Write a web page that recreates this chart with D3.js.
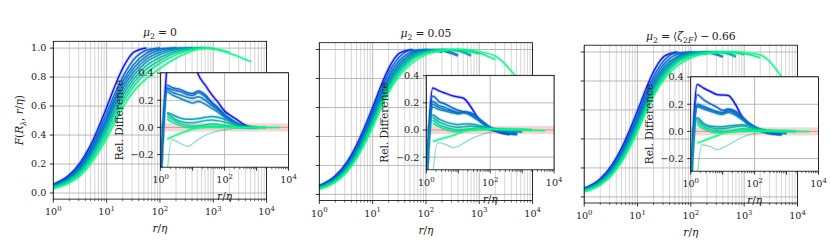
<!DOCTYPE html>
<html><head><meta charset="utf-8">
<script src="https://cdn.jsdelivr.net/npm/d3@7"></script>
<style>
body{margin:0;background:#fff}
text{font-family:"DejaVu Serif","Liberation Serif",serif;fill:#222}
</style>
</head><body>
<svg id="c" width="830" height="249"></svg>
<script>
// ---------------- DATA ----------------
const rMain = [1, 2, 3.2, 5, 7, 10, 14, 20, 32, 56, 100, 200, 400, 700, 1000, 2000, 5200];
const toneMain = [0, 0.36, 0.41, 0.45, 0.5, 0.6, 0.7, 0.8, 0.9, 1.0];

const F_mu0 = [
 [0.06,0.125,0.21,0.33,0.45,0.59,0.73,0.86,0.97,1.0],
 [0.055,0.115,0.195,0.31,0.42,0.55,0.68,0.80,0.92,0.985,1.0],
 [0.052,0.11,0.185,0.295,0.40,0.52,0.65,0.77,0.885,0.965,0.995,1.0],
 [0.05,0.105,0.178,0.285,0.385,0.505,0.63,0.745,0.86,0.945,0.985,1.0,0.998],
 [0.048,0.1,0.17,0.272,0.37,0.485,0.605,0.72,0.835,0.925,0.97,0.995,1.0],
 [0.045,0.095,0.162,0.26,0.355,0.465,0.585,0.695,0.81,0.905,0.955,0.99,1.0,0.998],
 [0.042,0.09,0.152,0.245,0.337,0.445,0.56,0.67,0.785,0.88,0.935,0.98,0.998,1.0],
 [0.04,0.085,0.145,0.235,0.322,0.425,0.54,0.645,0.76,0.855,0.915,0.97,0.995,1.0,0.995],
 [0.035,0.078,0.133,0.218,0.30,0.40,0.51,0.62,0.735,0.83,0.895,0.955,0.99,1.0,0.995,0.97],
 [0.03,0.07,0.12,0.2,0.28,0.375,0.48,0.59,0.70,0.79,0.86,0.93,0.98,1.0,0.995,0.965,0.905]
];
const F_mu005 = [
 [0.06,0.128,0.215,0.34,0.46,0.6,0.74,0.87,0.975,1.0],
 [0.057,0.12,0.205,0.325,0.44,0.575,0.715,0.84,0.95,0.995,0.99],
 [0.055,0.117,0.2,0.315,0.43,0.56,0.695,0.815,0.925,0.985,1.0,0.98],
 [0.053,0.113,0.193,0.305,0.415,0.545,0.675,0.795,0.905,0.975,0.998,0.99,0.955],
 [0.05,0.108,0.185,0.295,0.40,0.53,0.655,0.775,0.89,0.965,0.995,0.995,0.965],
 [0.048,0.104,0.178,0.285,0.39,0.515,0.64,0.76,0.875,0.955,0.99,1.0,0.99,0.955],
 [0.046,0.1,0.172,0.277,0.38,0.505,0.63,0.75,0.865,0.95,0.985,0.998,0.995,0.965],
 [0.043,0.095,0.165,0.268,0.37,0.49,0.615,0.735,0.85,0.94,0.98,0.998,0.998,0.985,0.97],
 [0.04,0.09,0.158,0.258,0.358,0.478,0.60,0.72,0.835,0.93,0.975,0.995,1.0,0.99,0.975,0.93],
 [0.036,0.084,0.15,0.248,0.345,0.462,0.585,0.705,0.82,0.91,0.965,0.99,1.0,0.995,0.985,0.955,0.80]
];
const F_muZeta = [
 [0.058,0.125,0.212,0.335,0.455,0.595,0.735,0.865,0.972,1.0],
 [0.055,0.118,0.2,0.318,0.432,0.565,0.705,0.83,0.945,0.995,0.99],
 [0.053,0.114,0.194,0.308,0.42,0.55,0.685,0.805,0.92,0.985,1.0,0.985],
 [0.051,0.11,0.187,0.298,0.405,0.535,0.665,0.785,0.9,0.97,0.997,0.995,0.965],
 [0.049,0.106,0.18,0.288,0.393,0.52,0.648,0.768,0.885,0.962,0.994,0.998,0.97],
 [0.047,0.102,0.174,0.279,0.382,0.507,0.633,0.753,0.87,0.952,0.99,1.0,0.995,0.965],
 [0.045,0.098,0.168,0.27,0.372,0.495,0.62,0.74,0.858,0.945,0.985,0.998,0.998,0.975],
 [0.042,0.093,0.16,0.26,0.36,0.48,0.605,0.725,0.845,0.935,0.978,0.997,1.0,0.995,0.98],
 [0.039,0.088,0.153,0.25,0.348,0.467,0.59,0.71,0.83,0.925,0.972,0.994,1.0,0.998,0.99,0.96],
 [0.035,0.082,0.145,0.24,0.335,0.452,0.575,0.695,0.815,0.905,0.96,0.99,0.998,1.0,0.995,0.98,0.82]
];

// inset: relative difference, [r/eta, value] pairs; last series is the faint one
const toneInset = [0, 0.36, 0.41, 0.45, 0.5, 0.6, 0.7, 0.8, 0.9, 1.0, 0.7];
const D_mu0 = [
 [[1,-0.42],[1.6,0.45],[2.5,0.6],[4,0.66],[7,0.64],[10,0.52],[15,0.39],[25,0.31],[40,0.24],[60,0.19],[100,0.12],[160,0.085],[250,0.055],[400,0.022],[700,0]],
 [[1,-0.35],[1.6,0.31],[2.5,0.29],[4,0.28],[7,0.255],[10,0.25],[15,0.268],[25,0.24],[40,0.185],[60,0.15],[100,0.095],[160,0.06],[250,0.03],[400,0.01],[700,0]],
 [[1,-0.35],[1.6,0.29],[2.5,0.275],[4,0.265],[7,0.24],[10,0.235],[15,0.255],[25,0.225],[40,0.175],[60,0.14],[100,0.09],[160,0.055],[250,0.03],[400,0.01],[700,0]],
 [[1,-0.35],[1.6,0.28],[2.5,0.255],[4,0.24],[7,0.22],[10,0.215],[15,0.225],[25,0.2],[40,0.16],[60,0.13],[100,0.085],[160,0.05],[250,0.025],[400,0.005],[1000,0]],
 [[1,-0.35],[1.6,0.26],[2.5,0.235],[4,0.215],[7,0.19],[10,0.18],[15,0.19],[25,0.17],[40,0.14],[60,0.115],[100,0.075],[160,0.045],[250,0.02],[400,0.005],[1000,0]],
 [[1.6,0.11],[2.5,0.09],[4,0.07],[7,0.06],[10,0.06],[15,0.065],[25,0.075],[40,0.08],[60,0.075],[100,0.06],[160,0.04],[250,0.02],[400,0.005],[1000,0]],
 [[1.6,0.1],[2.5,0.07],[4,0.045],[7,0.035],[10,0.035],[15,0.04],[25,0.05],[40,0.055],[60,0.05],[100,0.04],[160,0.025],[250,0.01],[400,0],[1000,0]],
 [[1.6,0.08],[2.5,0.055],[4,0.03],[7,0.015],[10,0.01],[15,0.012],[25,0.02],[40,0.025],[60,0.022],[100,0.015],[160,0.008],[250,0],[1000,0],[2000,0]],
 [[1.6,0.06],[2.5,0.035],[4,0.015],[7,0],[10,-0.005],[15,0],[25,0.005],[40,0.008],[100,0.005],[250,0],[1000,0],[2000,0]],
 [[1.6,-0.085],[2.5,-0.065],[4,-0.045],[7,-0.025],[10,-0.012],[15,-0.004],[25,0],[100,0],[1000,0],[5200,0]],
 [[1.6,-0.33],[2.2,-0.09],[4,-0.115],[7,-0.14],[10,-0.12],[15,-0.09],[25,-0.058],[40,-0.038],[60,-0.027],[100,-0.017],[160,-0.01],[250,-0.005],[400,-0.002],[1000,0]]
];
const D_mu005 = [
 [[1,-0.42],[1.6,0.31],[2.5,0.288],[4,0.27],[7,0.25],[10,0.243],[15,0.232],[25,0.17],[40,0.095],[60,0.05],[100,0.007],[160,-0.012],[250,-0.025],[400,-0.035]],
 [[1,-0.4],[1.6,0.25],[2.5,0.21],[4,0.19],[7,0.16],[10,0.145],[15,0.135],[25,0.125],[40,0.09],[60,0.06],[100,0.02],[160,0],[250,-0.015],[400,-0.025],[700,-0.03]],
 [[1,-0.4],[1.6,0.21],[2.5,0.18],[4,0.165],[7,0.14],[10,0.13],[15,0.13],[25,0.12],[40,0.085],[60,0.055],[100,0.015],[160,-0.005],[250,-0.02],[400,-0.028],[700,-0.035]],
 [[1,-0.4],[1.6,0.19],[2.5,0.165],[4,0.15],[7,0.135],[10,0.125],[15,0.135],[25,0.115],[40,0.08],[60,0.05],[100,0.015],[250,-0.01],[700,-0.02]],
 [[1,-0.4],[1.6,0.17],[2.5,0.15],[4,0.14],[7,0.125],[10,0.118],[15,0.125],[25,0.105],[40,0.075],[60,0.045],[100,0.012],[250,-0.005],[1000,-0.015]],
 [[1,-0.35],[1.6,0.11],[2.5,0.08],[4,0.06],[7,0.045],[10,0.04],[15,0.045],[25,0.045],[40,0.035],[100,0.01],[250,0],[1000,-0.005]],
 [[1.6,0.095],[2.5,0.06],[4,0.04],[7,0.025],[10,0.02],[15,0.025],[25,0.03],[40,0.025],[100,0.01],[250,0],[1000,0]],
 [[1.6,0.075],[2.5,0.04],[4,0.02],[7,0.005],[10,0],[25,0.01],[40,0.015],[100,0.01],[250,0.005],[2000,0]],
 [[1.6,0.05],[2.5,0.025],[4,0.005],[7,-0.01],[10,-0.01],[25,0],[100,0.005],[1000,0.005],[2000,0]],
 [[1.6,-0.085],[2.5,-0.07],[4,-0.055],[7,-0.04],[10,-0.025],[15,-0.01],[25,0],[40,0.005],[100,0.005],[1000,0],[5200,-0.005]],
 [[1.6,-0.33],[2.2,-0.095],[4,-0.105],[7,-0.13],[10,-0.12],[15,-0.095],[25,-0.065],[40,-0.045],[60,-0.03],[100,-0.015],[250,-0.005],[1000,0]]
];
const D_muZeta = [
 [[1,-0.42],[1.6,0.346],[2.5,0.32],[4,0.296],[7,0.27],[10,0.268],[15,0.264],[25,0.2],[40,0.111],[60,0.062],[100,0.032],[250,-0.012],[700,-0.025]],
 [[1,-0.4],[1.6,0.27],[2.5,0.235],[4,0.205],[7,0.175],[10,0.155],[15,0.165],[25,0.15],[40,0.11],[60,0.07],[100,0.035],[250,-0.005],[700,-0.02]],
 [[1,-0.4],[1.6,0.2],[2.5,0.185],[4,0.165],[7,0.145],[10,0.14],[15,0.16],[25,0.14],[40,0.1],[60,0.065],[100,0.03],[250,-0.01],[700,-0.02]],
 [[1,-0.4],[1.6,0.19],[2.5,0.175],[4,0.158],[7,0.14],[10,0.135],[15,0.15],[25,0.13],[40,0.095],[60,0.06],[100,0.028],[250,-0.008],[1000,-0.015]],
 [[1,-0.4],[1.6,0.18],[2.5,0.165],[4,0.15],[7,0.13],[10,0.125],[15,0.14],[25,0.12],[40,0.088],[60,0.055],[100,0.025],[250,-0.005],[1000,-0.012]],
 [[1,-0.35],[1.6,0.1],[2.5,0.06],[4,0.04],[7,0.035],[10,0.035],[15,0.04],[25,0.045],[40,0.05],[60,0.045],[100,0.03],[250,0.005],[1000,-0.005]],
 [[1.6,0.09],[2.5,0.05],[4,0.03],[7,0.02],[10,0.02],[15,0.025],[25,0.035],[40,0.04],[100,0.02],[250,0.005],[1000,0]],
 [[1.6,0.07],[2.5,0.035],[4,0.015],[7,0.005],[10,0],[25,0.01],[40,0.02],[100,0.015],[250,0.005],[2000,0]],
 [[1.6,0.05],[2.5,0.02],[4,0],[7,-0.01],[10,-0.01],[25,0],[100,0.008],[1000,0.003],[2000,0]],
 [[1.6,-0.086],[2.5,-0.07],[4,-0.05],[7,-0.03],[10,-0.012],[15,-0.005],[25,0],[100,0.002],[1000,0],[5200,0]],
 [[1.6,-0.33],[2.2,-0.1],[4,-0.11],[7,-0.135],[10,-0.12],[15,-0.1],[25,-0.07],[40,-0.045],[60,-0.03],[100,-0.017],[250,-0.005],[1000,0]]
];

const mainYTicks = [0, 0.2, 0.4, 0.6, 0.8, 1.0];
const insetYTicks = [-0.2, 0, 0.2, 0.4];
const decadeTicks = [1, 10, 100, 1000, 10000];
const insetXTicks = [1, 100, 10000];

// ---------------- LAYOUT ----------------
const panels = [
  {F: F_mu0,    D: D_mu0,    x: 53.3,  top: 41.3, ix: 160.7, itop: 72.7,
   title: [{t:'μ',i:1},{t:'2',sub:1},{t:'=',dx:3},{t:'0',dx:3}]},
  {F: F_mu005,  D: D_mu005,  x: 319.3, top: 42.7, ix: 426.3, itop: 75.3,
   title: [{t:'μ',i:1},{t:'2',sub:1},{t:'=',dx:3},{t:'0.05',dx:3}]},
  {F: F_muZeta, D: D_muZeta, x: 584.2, top: 45.2, ix: 690.7, itop: 76.7,
   title: [{t:'μ',i:1},{t:'2',sub:1},{t:'=',dx:3},{t:'⟨',dx:3},{t:'ζ',i:1},{t:'2',sub:1},{t:'F',sub:1,i:1},{t:'⟩'},{t:'−',dx:2.5},{t:'0.66',dx:2.5}]}
];
const W = 213.3, H = 157.8, IW = 127.8, IH = 94.5;
const tickFont = 9.6, labelFont = 10.6, titleFont = 10.8;

const svg = d3.select('#c');
const winter = d3.interpolateRgb('#0000ff', '#00ff80');

function rich(g, parts, attrs) {
  const t = g.append('text');
  Object.entries(attrs).forEach(([k, v]) => t.attr(k, v));
  let shift = 0;
  parts.forEach(p => {
    const s = t.append('tspan').text(p.t);
    const target = p.sub ? 3 : (p.sup ? -4.2 : 0);
    if (target !== shift) { s.attr('dy', target - shift); shift = target; }
    if (p.dx) s.attr('dx', p.dx);
    if (p.sub || p.sup) s.attr('font-size', '0.72em');
    if (p.i) s.attr('font-style', 'italic');
  });
  return t;
}
const isMajor = v => Math.abs(Math.log10(v) - Math.round(Math.log10(v))) < 1e-9;
const majorGrid = '#a8a8a8', minorGrid = '#cbcbcb';

panels.forEach((p, k) => {
  const g = svg.append('g');
  const x = d3.scaleLog().domain([1, 1e4]).range([p.x, p.x + W]);
  const y = d3.scaleLinear().domain([-0.042, 1.047]).range([p.top + H, p.top]);
  const bottom = p.top + H;

  // grid
  const allX = x.ticks();
  allX.forEach(v => {
    g.append('line').attr('x1', x(v)).attr('x2', x(v)).attr('y1', p.top).attr('y2', bottom)
      .attr('stroke', isMajor(v) ? majorGrid : minorGrid).attr('stroke-width', 0.8);
  });
  mainYTicks.forEach(v => {
    g.append('line').attr('x1', p.x).attr('x2', p.x + W).attr('y1', y(v)).attr('y2', y(v))
      .attr('stroke', majorGrid).attr('stroke-width', 0.8);
  });

  // curves
  const line = d3.line().defined(d => d[1] != null).x(d => x(d[0])).y(d => y(d[1])).curve(d3.curveMonotoneX);
  p.F.forEach((vals, i) => {
    const pts = vals.map((v, j) => [rMain[j], v]);
    const c = winter(toneMain[i]);
    g.append('path').attr('d', line(pts)).attr('fill', 'none').attr('stroke', c)
      .attr('stroke-width', 3.5).attr('stroke-opacity', 0.15);
    g.append('path').attr('d', line(pts)).attr('fill', 'none').attr('stroke', c)
      .attr('stroke-width', 1.5).attr('stroke-opacity', 0.9);
  });

  // frame
  g.append('rect').attr('x', p.x).attr('y', p.top).attr('width', W).attr('height', H)
    .attr('fill', 'none').attr('stroke', '#000').attr('stroke-width', 0.8);

  // x ticks
  allX.forEach(v => {
    const m = isMajor(v);
    g.append('line').attr('x1', x(v)).attr('x2', x(v)).attr('y1', bottom).attr('y2', bottom + (m ? 3.5 : 2))
      .attr('stroke', '#000').attr('stroke-width', m ? 0.8 : 0.6);
  });
  decadeTicks.forEach(v => {
    rich(g, [{t:'10'},{t:String(Math.round(Math.log10(v))),sup:1}],
      {x: x(v), y: bottom + 16, 'text-anchor': 'middle', 'font-size': tickFont});
  });
  rich(g, [{t:'r',i:1},{t:'/'},{t:'η',i:1}], {x: p.x + W/2, y: bottom + 33, 'text-anchor':'middle', 'font-size': labelFont});

  // y ticks
  mainYTicks.forEach(v => {
    g.append('line').attr('x1', p.x - 3.5).attr('x2', p.x).attr('y1', y(v)).attr('y2', y(v))
      .attr('stroke', '#000').attr('stroke-width', 0.8);
    if (k === 0) g.append('text').attr('x', p.x - 7).attr('y', y(v)).attr('dy', '0.35em')
      .attr('text-anchor', 'end').attr('font-size', tickFont).text(v.toFixed(1));
  });
  if (k === 0) {
    const cy = p.top + H / 2;
    rich(g, [{t:'F',i:1},{t:'('},{t:'R',i:1},{t:'λ',sub:1,i:1},{t:', '},{t:'r',i:1},{t:'/'},{t:'η',i:1},{t:')'}],
      {x: 0, y: 0, 'text-anchor': 'middle', 'font-size': labelFont, transform: `translate(23,${cy}) rotate(-90)`});
  }
  // title
  rich(g, p.title, {x: p.x + W/2, y: p.top - 5.7, 'text-anchor': 'middle', 'font-size': titleFont});

  // ---------- inset ----------
  const ig = svg.append('g');
  const ix = d3.scaleLog().domain([1, 1e4]).range([p.ix, p.ix + IW]);
  const iy = d3.scaleLinear().domain([-0.293, 0.403]).range([p.itop + IH, p.itop]);
  const ib = p.itop + IH;
  ig.append('rect').attr('x', p.ix).attr('y', p.itop).attr('width', IW).attr('height', IH).attr('fill', '#fff');
  const clipId = 'clip' + k;
  ig.append('clipPath').attr('id', clipId).append('rect')
    .attr('x', p.ix).attr('y', p.itop).attr('width', IW).attr('height', IH);
  insetXTicks.forEach(v => ig.append('line').attr('x1', ix(v)).attr('x2', ix(v)).attr('y1', p.itop).attr('y2', ib)
    .attr('stroke', majorGrid).attr('stroke-width', 0.8));
  insetYTicks.forEach(v => ig.append('line').attr('x1', p.ix).attr('x2', p.ix + IW).attr('y1', iy(v)).attr('y2', iy(v))
    .attr('stroke', majorGrid).attr('stroke-width', 0.8));
  // tolerance band
  ig.append('rect').attr('x', p.ix).attr('width', IW).attr('y', iy(0.03)).attr('height', iy(-0.03) - iy(0.03))
    .attr('fill', 'rgb(230,90,90)').attr('fill-opacity', 0.25);

  const cg = ig.append('g').attr('clip-path', `url(#${clipId})`);
  const iline = d3.line().x(d => ix(d[0])).y(d => iy(d[1])).curve(d3.curveMonotoneX);
  const order = [10, 0, 1, 2, 3, 4, 5, 6, 7, 8, 9];
  order.forEach(i => {
    const pts = p.D[i];
    const c = winter(toneInset[i]);
    const faint = i === 10;
    if (!faint) cg.append('path').attr('d', iline(pts)).attr('fill', 'none').attr('stroke', c)
      .attr('stroke-width', 3.5).attr('stroke-opacity', 0.18);
    cg.append('path').attr('d', iline(pts)).attr('fill', 'none').attr('stroke', c)
      .attr('stroke-width', faint ? 1.3 : 1.5).attr('stroke-opacity', faint ? 0.45 : 0.9);
  });

  ig.append('rect').attr('x', p.ix).attr('y', p.itop).attr('width', IW).attr('height', IH)
    .attr('fill', 'none').attr('stroke', '#000').attr('stroke-width', 0.8);

  ix.ticks().forEach(v => {
    const m = isMajor(v);
    ig.append('line').attr('x1', ix(v)).attr('x2', ix(v)).attr('y1', ib).attr('y2', ib + (m ? 3.5 : 2))
      .attr('stroke', '#000').attr('stroke-width', m ? 0.8 : 0.6);
  });
  insetXTicks.forEach(v => {
    rich(ig, [{t:'10'},{t:String(Math.round(Math.log10(v))),sup:1}],
      {x: ix(v), y: ib + 16, 'text-anchor': 'middle', 'font-size': tickFont});
  });
  rich(ig, [{t:'r',i:1},{t:'/'},{t:'η',i:1}], {x: p.ix + IW/2, y: ib + 33, 'text-anchor':'middle', 'font-size': labelFont});
  insetYTicks.forEach(v => {
    ig.append('line').attr('x1', p.ix - 3.5).attr('x2', p.ix).attr('y1', iy(v)).attr('y2', iy(v))
      .attr('stroke', '#000').attr('stroke-width', 0.8);
    ig.append('text').attr('x', p.ix - 7).attr('y', iy(v)).attr('dy', '0.35em')
      .attr('text-anchor', 'end').attr('font-size', tickFont).text(v < 0 ? '−' + Math.abs(v).toFixed(1) : v.toFixed(1));
  });
  ig.append('text').attr('font-size', labelFont).attr('text-anchor', 'middle')
    .attr('transform', `translate(${p.ix - 38},${p.itop + IH/2}) rotate(-90)`).text('Rel. Difference');
});
</script>
</body></html>
